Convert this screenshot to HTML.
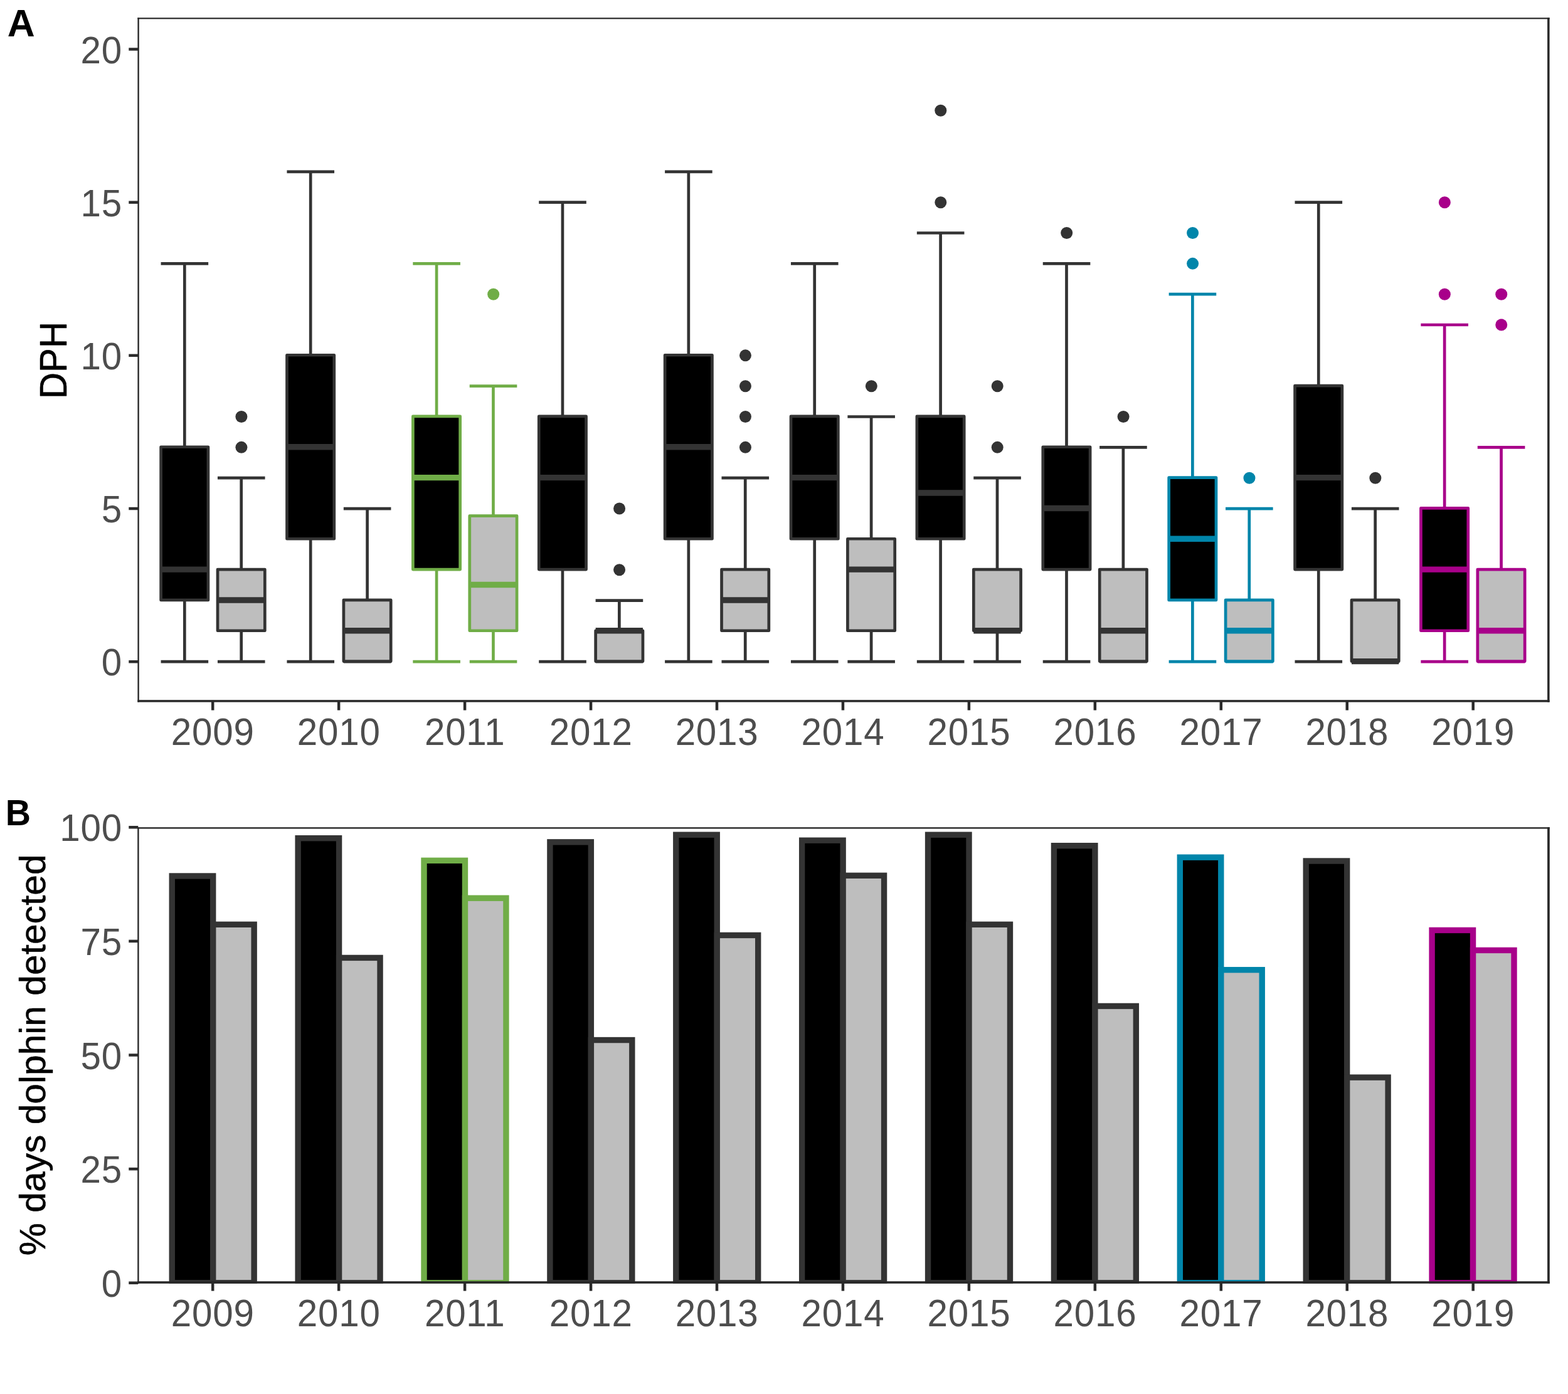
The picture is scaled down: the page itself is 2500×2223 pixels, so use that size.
<!DOCTYPE html>
<html lang="en">
<head>
<meta charset="utf-8">
<title>DPH and % days dolphin detected, 2009-2019</title>
<style>
html, body { margin: 0; padding: 0; background: #ffffff; }
body { width: 2500px; height: 2223px; overflow: hidden; }
svg { display: block; }
svg text { font-family: "Liberation Sans", Arial, Helvetica, sans-serif; }
</style>
</head>
<body>
<svg width="2500" height="2223" viewBox="0 0 2500 2223">
<rect x="0" y="0" width="2500" height="2223" fill="#ffffff"/>
<g id="panelA">
<g id="boxes">
<line x1="294.3" y1="1055.2" x2="294.3" y2="420.35" stroke="#333333" stroke-width="4.7"/>
<line x1="256.55" y1="420.35" x2="332.15" y2="420.35" stroke="#333333" stroke-width="4.7"/>
<line x1="256.55" y1="1055.2" x2="332.15" y2="1055.2" stroke="#333333" stroke-width="4.7"/>
<rect x="256.6" y="712.75" width="75.3" height="244.18" fill="#000000" stroke="#333333" stroke-width="4.7" stroke-linejoin="round"/>
<line x1="256.6" y1="908.1" x2="331.9" y2="908.1" stroke="#333333" stroke-width="9.4"/>
<line x1="384.7" y1="1055.2" x2="384.7" y2="762.19" stroke="#333333" stroke-width="4.7"/>
<line x1="346.95" y1="762.19" x2="422.55" y2="762.19" stroke="#333333" stroke-width="4.7"/>
<line x1="346.95" y1="1055.2" x2="422.55" y2="1055.2" stroke="#333333" stroke-width="4.7"/>
<circle cx="384.9" cy="713.36" r="9.5" fill="#333333"/>
<circle cx="384.9" cy="664.52" r="9.5" fill="#333333"/>
<rect x="347" y="908.1" width="75.3" height="97.67" fill="#BEBEBE" stroke="#333333" stroke-width="4.7" stroke-linejoin="round"/>
<line x1="347" y1="956.93" x2="422.3" y2="956.93" stroke="#333333" stroke-width="9.4"/>
<line x1="495.19" y1="1055.2" x2="495.19" y2="273.84" stroke="#333333" stroke-width="4.7"/>
<line x1="457.44" y1="273.84" x2="533.04" y2="273.84" stroke="#333333" stroke-width="4.7"/>
<line x1="457.44" y1="1055.2" x2="533.04" y2="1055.2" stroke="#333333" stroke-width="4.7"/>
<rect x="457.49" y="566.25" width="75.3" height="293.01" fill="#000000" stroke="#333333" stroke-width="4.7" stroke-linejoin="round"/>
<line x1="457.49" y1="712.75" x2="532.79" y2="712.75" stroke="#333333" stroke-width="9.4"/>
<line x1="585.59" y1="1055.2" x2="585.59" y2="811.03" stroke="#333333" stroke-width="4.7"/>
<line x1="547.84" y1="811.03" x2="623.44" y2="811.03" stroke="#333333" stroke-width="4.7"/>
<line x1="547.84" y1="1055.2" x2="623.44" y2="1055.2" stroke="#333333" stroke-width="4.7"/>
<rect x="547.89" y="956.93" width="75.3" height="97.67" fill="#BEBEBE" stroke="#333333" stroke-width="4.7" stroke-linejoin="round"/>
<line x1="547.89" y1="1005.76" x2="623.19" y2="1005.76" stroke="#333333" stroke-width="9.4"/>
<line x1="696.07" y1="1055.2" x2="696.07" y2="420.35" stroke="#70AD47" stroke-width="4.7"/>
<line x1="658.32" y1="420.35" x2="733.92" y2="420.35" stroke="#70AD47" stroke-width="4.7"/>
<line x1="658.32" y1="1055.2" x2="733.92" y2="1055.2" stroke="#70AD47" stroke-width="4.7"/>
<rect x="658.37" y="663.92" width="75.3" height="244.18" fill="#000000" stroke="#70AD47" stroke-width="4.7" stroke-linejoin="round"/>
<line x1="658.37" y1="761.59" x2="733.67" y2="761.59" stroke="#70AD47" stroke-width="9.4"/>
<line x1="786.47" y1="1055.2" x2="786.47" y2="615.69" stroke="#70AD47" stroke-width="4.7"/>
<line x1="748.72" y1="615.69" x2="824.32" y2="615.69" stroke="#70AD47" stroke-width="4.7"/>
<line x1="748.72" y1="1055.2" x2="824.32" y2="1055.2" stroke="#70AD47" stroke-width="4.7"/>
<circle cx="786.67" cy="469.18" r="9.5" fill="#70AD47"/>
<rect x="748.77" y="822.63" width="75.3" height="183.13" fill="#BEBEBE" stroke="#70AD47" stroke-width="4.7" stroke-linejoin="round"/>
<line x1="748.77" y1="932.51" x2="824.07" y2="932.51" stroke="#70AD47" stroke-width="9.4"/>
<line x1="896.95" y1="1055.2" x2="896.95" y2="322.68" stroke="#333333" stroke-width="4.7"/>
<line x1="859.21" y1="322.68" x2="934.8" y2="322.68" stroke="#333333" stroke-width="4.7"/>
<line x1="859.21" y1="1055.2" x2="934.8" y2="1055.2" stroke="#333333" stroke-width="4.7"/>
<rect x="859.25" y="663.92" width="75.3" height="244.18" fill="#000000" stroke="#333333" stroke-width="4.7" stroke-linejoin="round"/>
<line x1="859.25" y1="761.59" x2="934.55" y2="761.59" stroke="#333333" stroke-width="9.4"/>
<line x1="987.36" y1="1055.2" x2="987.36" y2="957.53" stroke="#333333" stroke-width="4.7"/>
<line x1="949.61" y1="957.53" x2="1025.21" y2="957.53" stroke="#333333" stroke-width="4.7"/>
<line x1="949.61" y1="1055.2" x2="1025.21" y2="1055.2" stroke="#333333" stroke-width="4.7"/>
<circle cx="987.56" cy="908.7" r="9.5" fill="#333333"/>
<circle cx="987.56" cy="811.03" r="9.5" fill="#333333"/>
<rect x="949.66" y="1005.76" width="75.3" height="48.84" fill="#BEBEBE" stroke="#333333" stroke-width="4.7" stroke-linejoin="round"/>
<line x1="949.66" y1="1005.76" x2="1024.96" y2="1005.76" stroke="#333333" stroke-width="9.4"/>
<line x1="1097.84" y1="1055.2" x2="1097.84" y2="273.84" stroke="#333333" stroke-width="4.7"/>
<line x1="1060.09" y1="273.84" x2="1135.69" y2="273.84" stroke="#333333" stroke-width="4.7"/>
<line x1="1060.09" y1="1055.2" x2="1135.69" y2="1055.2" stroke="#333333" stroke-width="4.7"/>
<rect x="1060.14" y="566.25" width="75.3" height="293.01" fill="#000000" stroke="#333333" stroke-width="4.7" stroke-linejoin="round"/>
<line x1="1060.14" y1="712.75" x2="1135.44" y2="712.75" stroke="#333333" stroke-width="9.4"/>
<line x1="1188.24" y1="1055.2" x2="1188.24" y2="762.19" stroke="#333333" stroke-width="4.7"/>
<line x1="1150.49" y1="762.19" x2="1226.09" y2="762.19" stroke="#333333" stroke-width="4.7"/>
<line x1="1150.49" y1="1055.2" x2="1226.09" y2="1055.2" stroke="#333333" stroke-width="4.7"/>
<circle cx="1188.44" cy="713.36" r="9.5" fill="#333333"/>
<circle cx="1188.44" cy="664.52" r="9.5" fill="#333333"/>
<circle cx="1188.44" cy="615.69" r="9.5" fill="#333333"/>
<circle cx="1188.44" cy="566.85" r="9.5" fill="#333333"/>
<rect x="1150.54" y="908.1" width="75.3" height="97.67" fill="#BEBEBE" stroke="#333333" stroke-width="4.7" stroke-linejoin="round"/>
<line x1="1150.54" y1="956.93" x2="1225.84" y2="956.93" stroke="#333333" stroke-width="9.4"/>
<line x1="1298.72" y1="1055.2" x2="1298.72" y2="420.35" stroke="#333333" stroke-width="4.7"/>
<line x1="1260.97" y1="420.35" x2="1336.58" y2="420.35" stroke="#333333" stroke-width="4.7"/>
<line x1="1260.97" y1="1055.2" x2="1336.58" y2="1055.2" stroke="#333333" stroke-width="4.7"/>
<rect x="1261.02" y="663.92" width="75.3" height="195.34" fill="#000000" stroke="#333333" stroke-width="4.7" stroke-linejoin="round"/>
<line x1="1261.02" y1="761.59" x2="1336.33" y2="761.59" stroke="#333333" stroke-width="9.4"/>
<line x1="1389.12" y1="1055.2" x2="1389.12" y2="664.52" stroke="#333333" stroke-width="4.7"/>
<line x1="1351.38" y1="664.52" x2="1426.98" y2="664.52" stroke="#333333" stroke-width="4.7"/>
<line x1="1351.38" y1="1055.2" x2="1426.98" y2="1055.2" stroke="#333333" stroke-width="4.7"/>
<circle cx="1389.33" cy="615.69" r="9.5" fill="#333333"/>
<rect x="1351.42" y="859.26" width="75.3" height="146.5" fill="#BEBEBE" stroke="#333333" stroke-width="4.7" stroke-linejoin="round"/>
<line x1="1351.42" y1="908.1" x2="1426.73" y2="908.1" stroke="#333333" stroke-width="9.4"/>
<line x1="1499.61" y1="1055.2" x2="1499.61" y2="371.51" stroke="#333333" stroke-width="4.7"/>
<line x1="1461.86" y1="371.51" x2="1537.46" y2="371.51" stroke="#333333" stroke-width="4.7"/>
<line x1="1461.86" y1="1055.2" x2="1537.46" y2="1055.2" stroke="#333333" stroke-width="4.7"/>
<circle cx="1499.81" cy="322.68" r="9.5" fill="#333333"/>
<circle cx="1499.81" cy="176.17" r="9.5" fill="#333333"/>
<rect x="1461.91" y="663.92" width="75.3" height="195.34" fill="#000000" stroke="#333333" stroke-width="4.7" stroke-linejoin="round"/>
<line x1="1461.91" y1="786.01" x2="1537.21" y2="786.01" stroke="#333333" stroke-width="9.4"/>
<line x1="1590.01" y1="1055.2" x2="1590.01" y2="762.19" stroke="#333333" stroke-width="4.7"/>
<line x1="1552.26" y1="762.19" x2="1627.86" y2="762.19" stroke="#333333" stroke-width="4.7"/>
<line x1="1552.26" y1="1055.2" x2="1627.86" y2="1055.2" stroke="#333333" stroke-width="4.7"/>
<circle cx="1590.21" cy="713.36" r="9.5" fill="#333333"/>
<circle cx="1590.21" cy="615.69" r="9.5" fill="#333333"/>
<rect x="1552.31" y="908.1" width="75.3" height="97.67" fill="#BEBEBE" stroke="#333333" stroke-width="4.7" stroke-linejoin="round"/>
<line x1="1552.31" y1="1005.76" x2="1627.61" y2="1005.76" stroke="#333333" stroke-width="9.4"/>
<line x1="1700.49" y1="1055.2" x2="1700.49" y2="420.35" stroke="#333333" stroke-width="4.7"/>
<line x1="1662.74" y1="420.35" x2="1738.35" y2="420.35" stroke="#333333" stroke-width="4.7"/>
<line x1="1662.74" y1="1055.2" x2="1738.35" y2="1055.2" stroke="#333333" stroke-width="4.7"/>
<circle cx="1700.69" cy="371.51" r="9.5" fill="#333333"/>
<rect x="1662.79" y="712.75" width="75.3" height="195.34" fill="#000000" stroke="#333333" stroke-width="4.7" stroke-linejoin="round"/>
<line x1="1662.79" y1="810.43" x2="1738.1" y2="810.43" stroke="#333333" stroke-width="9.4"/>
<line x1="1790.89" y1="1055.2" x2="1790.89" y2="713.36" stroke="#333333" stroke-width="4.7"/>
<line x1="1753.14" y1="713.36" x2="1828.75" y2="713.36" stroke="#333333" stroke-width="4.7"/>
<line x1="1753.14" y1="1055.2" x2="1828.75" y2="1055.2" stroke="#333333" stroke-width="4.7"/>
<circle cx="1791.1" cy="664.52" r="9.5" fill="#333333"/>
<rect x="1753.19" y="908.1" width="75.3" height="146.5" fill="#BEBEBE" stroke="#333333" stroke-width="4.7" stroke-linejoin="round"/>
<line x1="1753.19" y1="1005.76" x2="1828.5" y2="1005.76" stroke="#333333" stroke-width="9.4"/>
<line x1="1901.38" y1="1055.2" x2="1901.38" y2="469.18" stroke="#0085AA" stroke-width="4.7"/>
<line x1="1863.63" y1="469.18" x2="1939.23" y2="469.18" stroke="#0085AA" stroke-width="4.7"/>
<line x1="1863.63" y1="1055.2" x2="1939.23" y2="1055.2" stroke="#0085AA" stroke-width="4.7"/>
<circle cx="1901.58" cy="420.35" r="9.5" fill="#0085AA"/>
<circle cx="1901.58" cy="371.51" r="9.5" fill="#0085AA"/>
<rect x="1863.68" y="761.59" width="75.3" height="195.34" fill="#000000" stroke="#0085AA" stroke-width="4.7" stroke-linejoin="round"/>
<line x1="1863.68" y1="859.26" x2="1938.98" y2="859.26" stroke="#0085AA" stroke-width="9.4"/>
<line x1="1991.78" y1="1055.2" x2="1991.78" y2="811.03" stroke="#0085AA" stroke-width="4.7"/>
<line x1="1954.03" y1="811.03" x2="2029.63" y2="811.03" stroke="#0085AA" stroke-width="4.7"/>
<line x1="1954.03" y1="1055.2" x2="2029.63" y2="1055.2" stroke="#0085AA" stroke-width="4.7"/>
<circle cx="1991.98" cy="762.19" r="9.5" fill="#0085AA"/>
<rect x="1954.08" y="956.93" width="75.3" height="97.67" fill="#BEBEBE" stroke="#0085AA" stroke-width="4.7" stroke-linejoin="round"/>
<line x1="1954.08" y1="1005.76" x2="2029.38" y2="1005.76" stroke="#0085AA" stroke-width="9.4"/>
<line x1="2102.27" y1="1055.2" x2="2102.27" y2="322.68" stroke="#333333" stroke-width="4.7"/>
<line x1="2064.51" y1="322.68" x2="2140.12" y2="322.68" stroke="#333333" stroke-width="4.7"/>
<line x1="2064.51" y1="1055.2" x2="2140.12" y2="1055.2" stroke="#333333" stroke-width="4.7"/>
<rect x="2064.57" y="615.09" width="75.3" height="293.01" fill="#000000" stroke="#333333" stroke-width="4.7" stroke-linejoin="round"/>
<line x1="2064.57" y1="761.59" x2="2139.87" y2="761.59" stroke="#333333" stroke-width="9.4"/>
<line x1="2192.66" y1="1055.2" x2="2192.66" y2="811.03" stroke="#333333" stroke-width="4.7"/>
<line x1="2154.91" y1="811.03" x2="2230.51" y2="811.03" stroke="#333333" stroke-width="4.7"/>
<line x1="2154.91" y1="1055.2" x2="2230.51" y2="1055.2" stroke="#333333" stroke-width="4.7"/>
<circle cx="2192.86" cy="762.19" r="9.5" fill="#333333"/>
<rect x="2154.96" y="956.93" width="75.3" height="97.67" fill="#BEBEBE" stroke="#333333" stroke-width="4.7" stroke-linejoin="round"/>
<line x1="2154.96" y1="1054.6" x2="2230.26" y2="1054.6" stroke="#333333" stroke-width="9.4"/>
<line x1="2303.15" y1="1055.2" x2="2303.15" y2="518.01" stroke="#A8008A" stroke-width="4.7"/>
<line x1="2265.4" y1="518.01" x2="2341" y2="518.01" stroke="#A8008A" stroke-width="4.7"/>
<line x1="2265.4" y1="1055.2" x2="2341" y2="1055.2" stroke="#A8008A" stroke-width="4.7"/>
<circle cx="2303.35" cy="469.18" r="9.5" fill="#A8008A"/>
<circle cx="2303.35" cy="322.68" r="9.5" fill="#A8008A"/>
<rect x="2265.45" y="810.43" width="75.3" height="195.34" fill="#000000" stroke="#A8008A" stroke-width="4.7" stroke-linejoin="round"/>
<line x1="2265.45" y1="908.1" x2="2340.75" y2="908.1" stroke="#A8008A" stroke-width="9.4"/>
<line x1="2393.55" y1="1055.2" x2="2393.55" y2="713.36" stroke="#A8008A" stroke-width="4.7"/>
<line x1="2355.8" y1="713.36" x2="2431.4" y2="713.36" stroke="#A8008A" stroke-width="4.7"/>
<line x1="2355.8" y1="1055.2" x2="2431.4" y2="1055.2" stroke="#A8008A" stroke-width="4.7"/>
<circle cx="2393.75" cy="518.01" r="9.5" fill="#A8008A"/>
<circle cx="2393.75" cy="469.18" r="9.5" fill="#A8008A"/>
<rect x="2355.85" y="908.1" width="75.3" height="146.5" fill="#BEBEBE" stroke="#A8008A" stroke-width="4.7" stroke-linejoin="round"/>
<line x1="2355.85" y1="1005.76" x2="2431.15" y2="1005.76" stroke="#A8008A" stroke-width="9.4"/>
</g>
<rect x="219.4" y="28.2" width="2.4" height="1091.5" fill="#282828"/>
<rect x="219.4" y="28.2" width="2251.2" height="2.2" fill="#282828"/>
<rect x="2467.1" y="28.2" width="3.5" height="1091.5" fill="#282828"/>
<rect x="219.4" y="1116.2" width="2251.2" height="3.5" fill="#282828"/>
<rect x="205.3" y="1052.95" width="15" height="4.5" fill="#2b2b2b"/>
<text transform="translate(195 1077.4) scale(1 1.04)" text-anchor="end" letter-spacing="0.8" fill="#4D4D4D" font-size="58.33">0</text>
<rect x="205.3" y="808.78" width="15" height="4.5" fill="#2b2b2b"/>
<text transform="translate(195 833.23) scale(1 1.04)" text-anchor="end" letter-spacing="0.8" fill="#4D4D4D" font-size="58.33">5</text>
<rect x="205.3" y="564.6" width="15" height="4.5" fill="#2b2b2b"/>
<text transform="translate(195 589.05) scale(1 1.04)" text-anchor="end" letter-spacing="0.8" fill="#4D4D4D" font-size="58.33">10</text>
<rect x="205.3" y="320.43" width="15" height="4.5" fill="#2b2b2b"/>
<text transform="translate(195 344.88) scale(1 1.04)" text-anchor="end" letter-spacing="0.8" fill="#4D4D4D" font-size="58.33">15</text>
<rect x="205.3" y="76.25" width="15" height="4.5" fill="#2b2b2b"/>
<text transform="translate(195 100.7) scale(1 1.04)" text-anchor="end" letter-spacing="0.8" fill="#4D4D4D" font-size="58.33">20</text>
<rect x="336.95" y="1118" width="4.5" height="14.6" fill="#2b2b2b"/>
<text transform="translate(339.3 1188) scale(1 1.04)" text-anchor="middle" letter-spacing="0.8" fill="#4D4D4D" font-size="58.33">2009</text>
<rect x="537.9" y="1118" width="4.5" height="14.6" fill="#2b2b2b"/>
<text transform="translate(540.25 1188) scale(1 1.04)" text-anchor="middle" letter-spacing="0.8" fill="#4D4D4D" font-size="58.33">2010</text>
<rect x="738.85" y="1118" width="4.5" height="14.6" fill="#2b2b2b"/>
<text transform="translate(741.2 1188) scale(1 1.04)" text-anchor="middle" letter-spacing="0.8" fill="#4D4D4D" font-size="58.33">2011</text>
<rect x="939.8" y="1118" width="4.5" height="14.6" fill="#2b2b2b"/>
<text transform="translate(942.15 1188) scale(1 1.04)" text-anchor="middle" letter-spacing="0.8" fill="#4D4D4D" font-size="58.33">2012</text>
<rect x="1140.75" y="1118" width="4.5" height="14.6" fill="#2b2b2b"/>
<text transform="translate(1143.1 1188) scale(1 1.04)" text-anchor="middle" letter-spacing="0.8" fill="#4D4D4D" font-size="58.33">2013</text>
<rect x="1341.7" y="1118" width="4.5" height="14.6" fill="#2b2b2b"/>
<text transform="translate(1344.05 1188) scale(1 1.04)" text-anchor="middle" letter-spacing="0.8" fill="#4D4D4D" font-size="58.33">2014</text>
<rect x="1542.65" y="1118" width="4.5" height="14.6" fill="#2b2b2b"/>
<text transform="translate(1545 1188) scale(1 1.04)" text-anchor="middle" letter-spacing="0.8" fill="#4D4D4D" font-size="58.33">2015</text>
<rect x="1743.6" y="1118" width="4.5" height="14.6" fill="#2b2b2b"/>
<text transform="translate(1745.95 1188) scale(1 1.04)" text-anchor="middle" letter-spacing="0.8" fill="#4D4D4D" font-size="58.33">2016</text>
<rect x="1944.55" y="1118" width="4.5" height="14.6" fill="#2b2b2b"/>
<text transform="translate(1946.9 1188) scale(1 1.04)" text-anchor="middle" letter-spacing="0.8" fill="#4D4D4D" font-size="58.33">2017</text>
<rect x="2145.5" y="1118" width="4.5" height="14.6" fill="#2b2b2b"/>
<text transform="translate(2147.85 1188) scale(1 1.04)" text-anchor="middle" letter-spacing="0.8" fill="#4D4D4D" font-size="58.33">2018</text>
<rect x="2346.45" y="1118" width="4.5" height="14.6" fill="#2b2b2b"/>
<text transform="translate(2348.8 1188) scale(1 1.04)" text-anchor="middle" letter-spacing="0.8" fill="#4D4D4D" font-size="58.33">2019</text>
<text transform="translate(105.8 574.5) rotate(-90) scale(1 1.04)" text-anchor="middle" stroke="#000000" stroke-width="0.5" stroke-linejoin="round" fill="#000000" font-size="58.33">DPH</text>
<text transform="translate(11.8 57.55) scale(1.042 1.036)" font-weight="bold" fill="#000000" font-size="58.33">A</text>
</g>
<g id="panelB">
<g id="bars">
<rect x="274.25" y="1396.99" width="65.45" height="648.81" fill="#000000" stroke="#333333" stroke-width="9.4"/>
<rect x="339.7" y="1474.3" width="65.45" height="571.5" fill="#BEBEBE" stroke="#333333" stroke-width="9.4"/>
<rect x="475.14" y="1336.69" width="65.45" height="709.11" fill="#000000" stroke="#333333" stroke-width="9.4"/>
<rect x="540.59" y="1527.41" width="65.45" height="518.39" fill="#BEBEBE" stroke="#333333" stroke-width="9.4"/>
<rect x="676.02" y="1372.29" width="65.45" height="673.51" fill="#000000" stroke="#70AD47" stroke-width="9.4"/>
<rect x="741.47" y="1432.23" width="65.45" height="613.57" fill="#BEBEBE" stroke="#70AD47" stroke-width="9.4"/>
<rect x="876.9" y="1342.86" width="65.45" height="702.94" fill="#000000" stroke="#333333" stroke-width="9.4"/>
<rect x="942.36" y="1658.55" width="65.45" height="387.25" fill="#BEBEBE" stroke="#333333" stroke-width="9.4"/>
<rect x="1077.79" y="1331.24" width="65.45" height="714.56" fill="#000000" stroke="#333333" stroke-width="9.4"/>
<rect x="1143.24" y="1491.44" width="65.45" height="554.36" fill="#BEBEBE" stroke="#333333" stroke-width="9.4"/>
<rect x="1278.67" y="1340.17" width="65.45" height="705.63" fill="#000000" stroke="#333333" stroke-width="9.4"/>
<rect x="1344.12" y="1396.26" width="65.45" height="649.54" fill="#BEBEBE" stroke="#333333" stroke-width="9.4"/>
<rect x="1479.56" y="1331.24" width="65.45" height="714.56" fill="#000000" stroke="#333333" stroke-width="9.4"/>
<rect x="1545.01" y="1474.3" width="65.45" height="571.5" fill="#BEBEBE" stroke="#333333" stroke-width="9.4"/>
<rect x="1680.44" y="1348.68" width="65.45" height="697.12" fill="#000000" stroke="#333333" stroke-width="9.4"/>
<rect x="1745.89" y="1604.42" width="65.45" height="441.38" fill="#BEBEBE" stroke="#333333" stroke-width="9.4"/>
<rect x="1881.33" y="1367.2" width="65.45" height="678.6" fill="#000000" stroke="#0085AA" stroke-width="9.4"/>
<rect x="1946.78" y="1546.66" width="65.45" height="499.14" fill="#BEBEBE" stroke="#0085AA" stroke-width="9.4"/>
<rect x="2082.22" y="1373.01" width="65.45" height="672.79" fill="#000000" stroke="#333333" stroke-width="9.4"/>
<rect x="2147.66" y="1718.13" width="65.45" height="327.67" fill="#BEBEBE" stroke="#333333" stroke-width="9.4"/>
<rect x="2283.1" y="1483.45" width="65.45" height="562.35" fill="#000000" stroke="#A8008A" stroke-width="9.4"/>
<rect x="2348.55" y="1515.42" width="65.45" height="530.38" fill="#BEBEBE" stroke="#A8008A" stroke-width="9.4"/>
</g>
<rect x="200" y="2046.85" width="2300" height="8" fill="#ffffff"/>
<rect x="219.2" y="1319.2" width="2.4" height="727.65" fill="#282828"/>
<rect x="219.2" y="1319.2" width="2251.6" height="2.4" fill="#282828"/>
<rect x="2467.1" y="1319.2" width="3.7" height="727.65" fill="#282828"/>
<rect x="219.2" y="2043.25" width="2251.6" height="3.6" fill="#282828"/>
<rect x="205.3" y="2043.55" width="15" height="4.5" fill="#2b2b2b"/>
<text transform="translate(195 2067.8) scale(1 1.04)" text-anchor="end" letter-spacing="0.8" fill="#4D4D4D" font-size="58.33">0</text>
<rect x="205.3" y="1861.91" width="15" height="4.5" fill="#2b2b2b"/>
<text transform="translate(195 1886.16) scale(1 1.04)" text-anchor="end" letter-spacing="0.8" fill="#4D4D4D" font-size="58.33">25</text>
<rect x="205.3" y="1680.27" width="15" height="4.5" fill="#2b2b2b"/>
<text transform="translate(195 1704.52) scale(1 1.04)" text-anchor="end" letter-spacing="0.8" fill="#4D4D4D" font-size="58.33">50</text>
<rect x="205.3" y="1498.64" width="15" height="4.5" fill="#2b2b2b"/>
<text transform="translate(195 1522.89) scale(1 1.04)" text-anchor="end" letter-spacing="0.8" fill="#4D4D4D" font-size="58.33">75</text>
<rect x="205.3" y="1317" width="15" height="4.5" fill="#2b2b2b"/>
<text transform="translate(195 1341.25) scale(1 1.04)" text-anchor="end" letter-spacing="0.8" fill="#4D4D4D" font-size="58.33">100</text>
<rect x="336.95" y="2046" width="4.5" height="12.6" fill="#2b2b2b"/>
<text transform="translate(339.3 2114.8) scale(1 1.04)" text-anchor="middle" letter-spacing="0.8" fill="#4D4D4D" font-size="58.33">2009</text>
<rect x="537.9" y="2046" width="4.5" height="12.6" fill="#2b2b2b"/>
<text transform="translate(540.25 2114.8) scale(1 1.04)" text-anchor="middle" letter-spacing="0.8" fill="#4D4D4D" font-size="58.33">2010</text>
<rect x="738.85" y="2046" width="4.5" height="12.6" fill="#2b2b2b"/>
<text transform="translate(741.2 2114.8) scale(1 1.04)" text-anchor="middle" letter-spacing="0.8" fill="#4D4D4D" font-size="58.33">2011</text>
<rect x="939.8" y="2046" width="4.5" height="12.6" fill="#2b2b2b"/>
<text transform="translate(942.15 2114.8) scale(1 1.04)" text-anchor="middle" letter-spacing="0.8" fill="#4D4D4D" font-size="58.33">2012</text>
<rect x="1140.75" y="2046" width="4.5" height="12.6" fill="#2b2b2b"/>
<text transform="translate(1143.1 2114.8) scale(1 1.04)" text-anchor="middle" letter-spacing="0.8" fill="#4D4D4D" font-size="58.33">2013</text>
<rect x="1341.7" y="2046" width="4.5" height="12.6" fill="#2b2b2b"/>
<text transform="translate(1344.05 2114.8) scale(1 1.04)" text-anchor="middle" letter-spacing="0.8" fill="#4D4D4D" font-size="58.33">2014</text>
<rect x="1542.65" y="2046" width="4.5" height="12.6" fill="#2b2b2b"/>
<text transform="translate(1545 2114.8) scale(1 1.04)" text-anchor="middle" letter-spacing="0.8" fill="#4D4D4D" font-size="58.33">2015</text>
<rect x="1743.6" y="2046" width="4.5" height="12.6" fill="#2b2b2b"/>
<text transform="translate(1745.95 2114.8) scale(1 1.04)" text-anchor="middle" letter-spacing="0.8" fill="#4D4D4D" font-size="58.33">2016</text>
<rect x="1944.55" y="2046" width="4.5" height="12.6" fill="#2b2b2b"/>
<text transform="translate(1946.9 2114.8) scale(1 1.04)" text-anchor="middle" letter-spacing="0.8" fill="#4D4D4D" font-size="58.33">2017</text>
<rect x="2145.5" y="2046" width="4.5" height="12.6" fill="#2b2b2b"/>
<text transform="translate(2147.85 2114.8) scale(1 1.04)" text-anchor="middle" letter-spacing="0.8" fill="#4D4D4D" font-size="58.33">2018</text>
<rect x="2346.45" y="2046" width="4.5" height="12.6" fill="#2b2b2b"/>
<text transform="translate(2348.8 2114.8) scale(1 1.04)" text-anchor="middle" letter-spacing="0.8" fill="#4D4D4D" font-size="58.33">2019</text>
<text transform="translate(72.1 1682.3) rotate(-90) scale(1.0067 0.98)" text-anchor="middle" stroke="#000000" stroke-width="0.5" stroke-linejoin="round" fill="#000000" font-size="58.33">% days dolphin detected</text>
<text transform="translate(8.8 1316.4) scale(0.955 0.98)" font-weight="bold" fill="#000000" font-size="58.33">B</text>
</g>
</svg>
</body>
</html>
